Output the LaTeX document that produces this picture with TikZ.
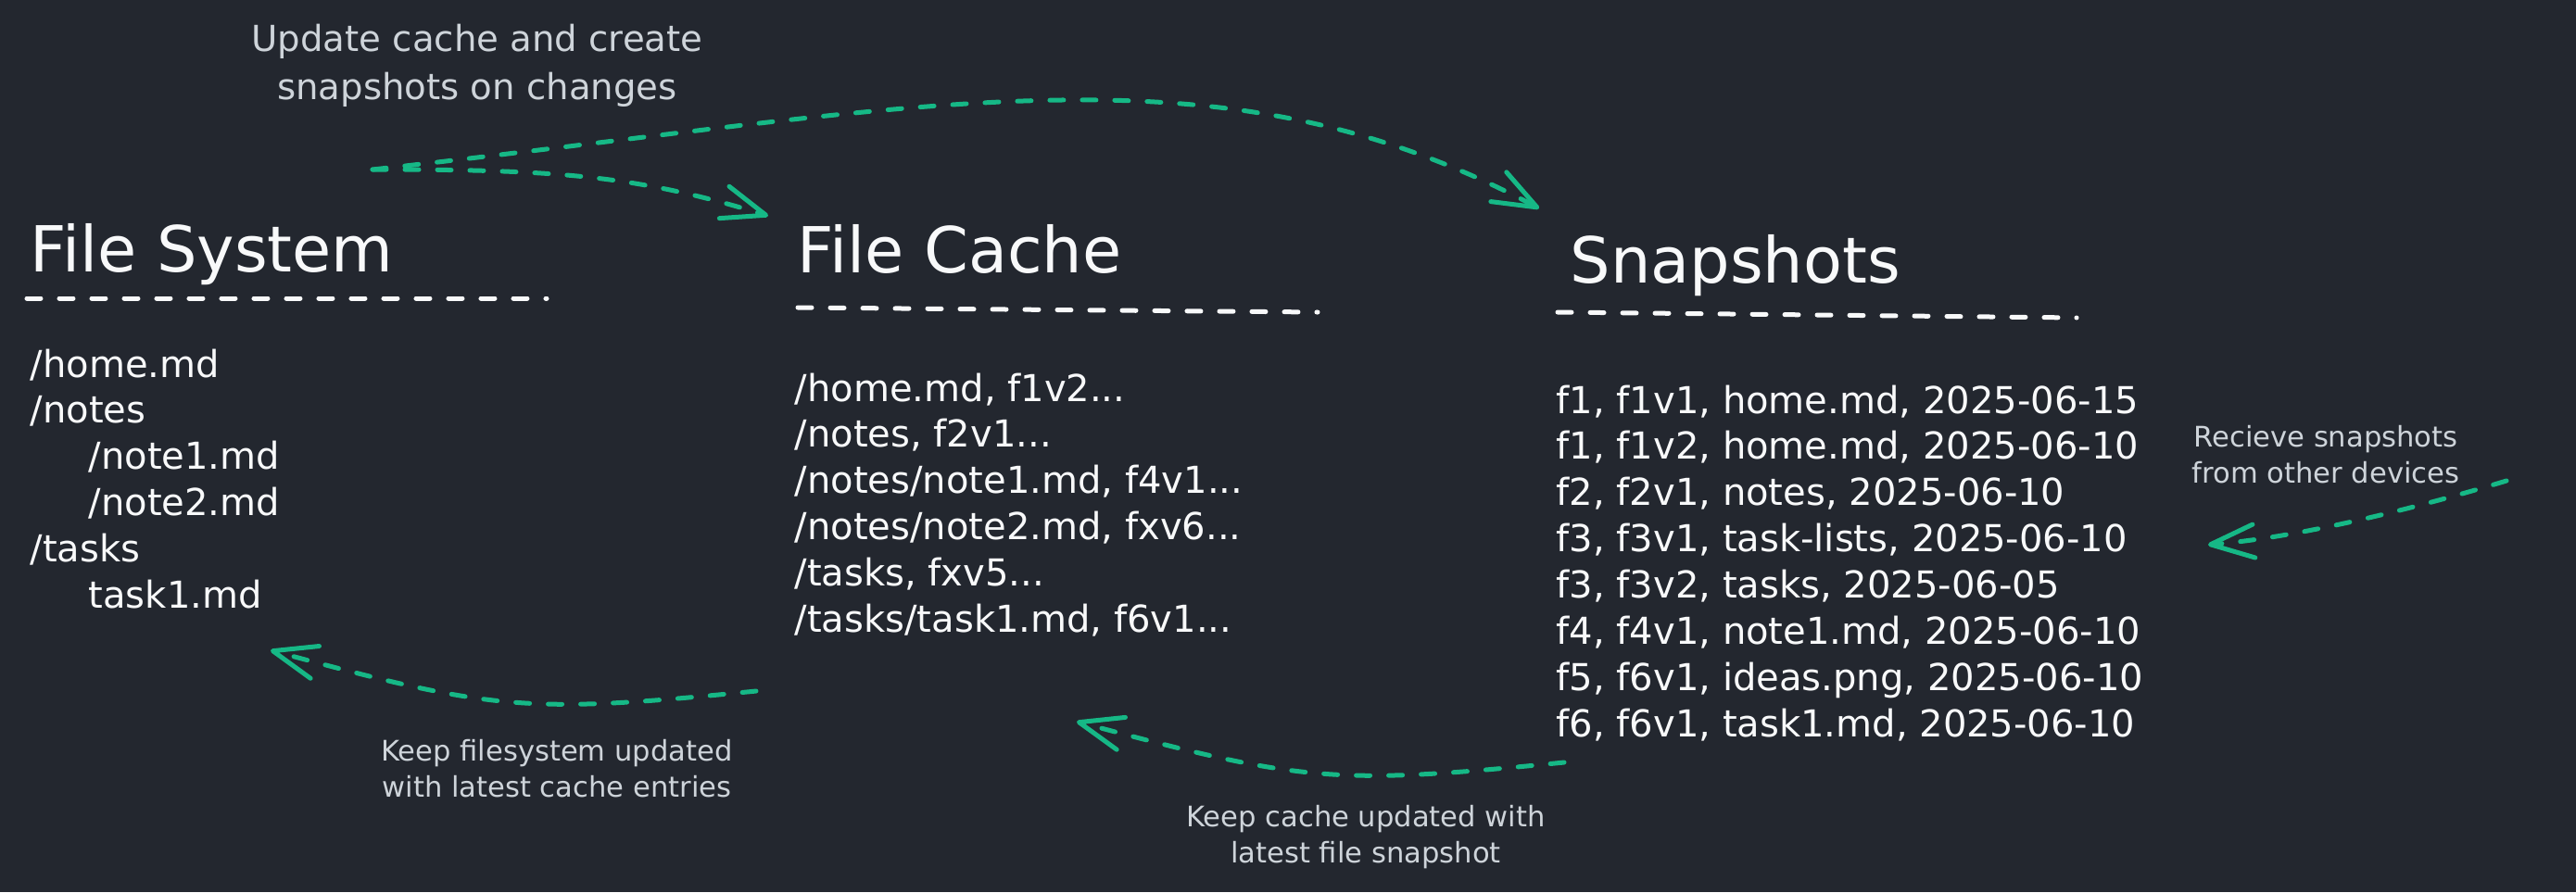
\documentclass[tikz,border=0pt]{standalone}
\usepackage{fontspec}
\setmainfont{DejaVu Sans}
\usetikzlibrary{arrows.meta}
\definecolor{bgdark}{RGB}{35,39,47}
\definecolor{flowgreen}{RGB}{22,184,134}
\definecolor{notegray}{RGB}{206,212,218}
\definecolor{chalk}{RGB}{248,249,250}
\tikzset{
	heading/.style={anchor=base west, inner sep=0pt, text=chalk, font=\fontsize{19.5}{23}\selectfont},
	listing/.style={anchor=base west, inner sep=0pt, text=chalk, font=\fontsize{11.4}{14.2}\selectfont},
	dashrule/.style={draw=chalk, line width=0.05cm, line cap=round, dash pattern=on 0.15cm off 0.2cm},
	note/.style={align=center, inner sep=0pt, text=notegray, font=\fontsize{8.7}{11.1}\selectfont},
	flowarrow/.style={draw=flowgreen, line width=0.05cm, line cap=round, dash pattern=on 0.15cm off 0.2cm, -{Straight Barb[length=0.47cm, width=0.36cm, round]}},
}

\begin{document}
\begin{tikzpicture}
			%%%%% START %%%%%
			
			\fill[bgdark] (0, 0) rectangle (27.8, 9.63);
			\useasboundingbox (0, 0) rectangle (27.8, 9.63);
			
			% titles
			\node[heading] (fs) at (0.32, 6.70) {File System};
			\node[heading] (fc) at (8.60, 6.69) {File Cache};
			\node[heading] (snap) at (16.94, 6.58) {Snapshots};
			
			\draw[dashrule] (0.29, 6.41) -- (5.90, 6.41);
			\draw[dashrule] (8.61, 6.31) -- (14.22, 6.26);
			\draw[dashrule] (16.81, 6.26) -- (22.41, 6.20);
			
			% lists
			\node[listing] (fslist) at (0.32, 5.56) {\begin{tabular}[t]{@{}l@{}}
				/home.md\\ /notes\\ \hspace{0.63cm}/note1.md\\ \hspace{0.63cm}/note2.md\\ /tasks\\ \hspace{0.63cm}task1.md
			\end{tabular}};
			\node[listing] (fclist) at (8.57, 5.30) {\begin{tabular}[t]{@{}l@{}}
				/home.md, f1v2...\\ /notes, f2v1...\\ /notes/note1.md, f4v1...\\ /notes/note2.md, fxv6...\\ /tasks, fxv5...\\ /tasks/task1.md, f6v1...
			\end{tabular}};
			\node[listing] (snaplist) at (16.79, 5.17) {\begin{tabular}[t]{@{}l@{}}
				f1, f1v1, home.md, 2025-06-15\\ f1, f1v2, home.md, 2025-06-10\\ f2, f2v1, notes, 2025-06-10\\ f3, f3v1, task-lists, 2025-06-10\\ f3, f3v2, tasks, 2025-06-05\\ f4, f4v1, note1.md, 2025-06-10\\ f5, f6v1, ideas.png, 2025-06-10\\ f6, f6v1, task1.md, 2025-06-10
			\end{tabular}};
			
			% notes
			\node[note, font=\fontsize{11}{14.8}\selectfont] (updnote) at (5.15, 8.92) {Update cache and create\\snapshots on changes};
			\node[note] (fsnote) at (6.01, 1.33) {Keep filesystem updated\\with latest cache entries};
			\node[note] (cachenote) at (14.74, 0.59) {Keep cache updated with\\latest file snapshot};
			\node[note] (recvnote) at (25.10, 4.72) {Recieve snapshots\\from other devices};
			
			% arrows
			\coordinate (updsrc) at (4.02, 7.80);
			\coordinate (cachetop) at (8.29, 7.30);
			\coordinate (snaptop) at (16.61, 7.38);
			\coordinate (cacheout) at (8.16, 2.17);
			\coordinate (fsin) at (2.92, 2.61);
			\coordinate (snapout) at (16.88, 1.40);
			\coordinate (cachein) at (11.62, 1.84);
			\coordinate (remote) at (27.05, 4.44);
			\coordinate (snapin) at (23.83, 3.75);
			
			\draw[flowarrow] (updsrc) .. controls (6.00, 7.80) and (6.86, 7.74) .. (cachetop);
			\draw[flowarrow] (updsrc) .. controls (9.98, 8.46) and (13.08, 9.26) .. (snaptop);
			\draw[flowarrow] (cacheout) .. controls (5.67, 1.92) and (5.33, 1.96) .. (fsin);
			\draw[flowarrow] (snapout) .. controls (14.39, 1.15) and (14.05, 1.19) .. (cachein);
			\draw[flowarrow] (remote) .. controls (26.09, 4.15) and (24.83, 3.83) .. (snapin);
			
			%%%%% END %%%%%
\end{tikzpicture}
\end{document}
